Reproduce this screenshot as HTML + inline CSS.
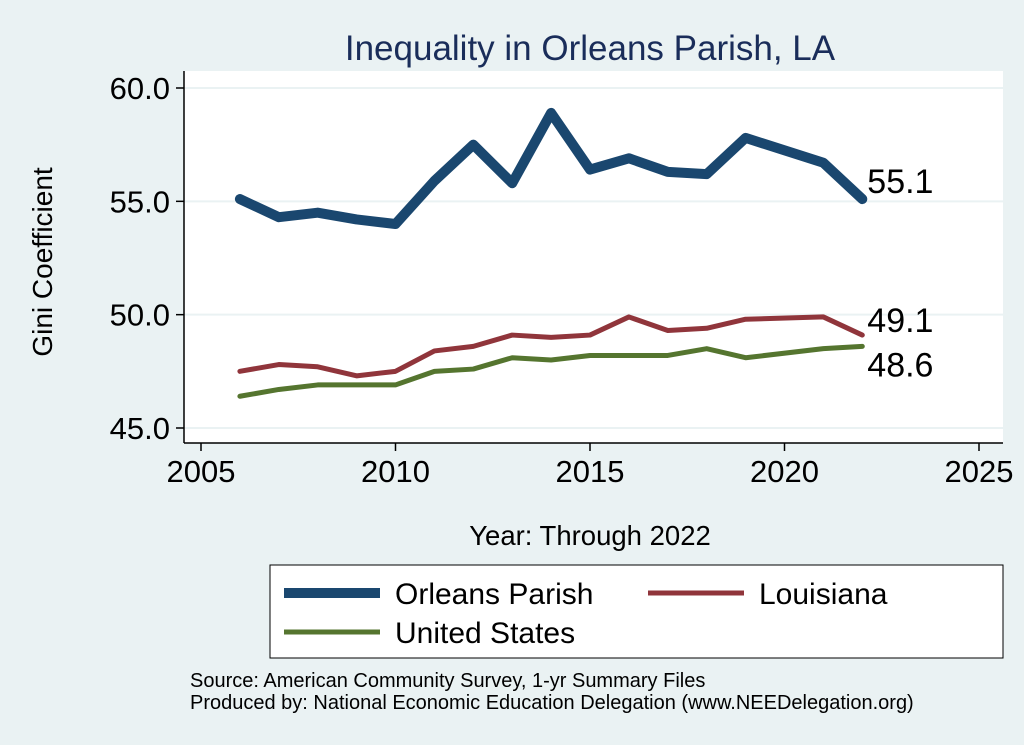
<!DOCTYPE html>
<html><head><meta charset="utf-8"><style>
body{margin:0;background:#eaf2f3;}
svg{display:block;font-family:"Liberation Sans",Arial,sans-serif;}
</style></head><body>
<svg id="chart" width="1024" height="745">
<rect x="0" y="0" width="1024" height="745" fill="#eaf2f3"/>
<text x="590" y="60" text-anchor="middle" font-size="35" fill="#1a2d5a">Inequality in Orleans Parish, LA</text>
<rect x="184" y="71" width="819" height="372" fill="#fff"/>
<g id="grid"></g><g id="axes"></g><g id="series"></g>
<text transform="translate(52,262) rotate(-90)" text-anchor="middle" font-size="28" fill="#000">Gini Coefficient</text>
<text x="590" y="545" text-anchor="middle" font-size="27.5" fill="#000">Year: Through 2022</text>
<g>
<rect x="270" y="565" width="733" height="93" fill="#fff" stroke="#000" stroke-width="1"/>
<line x1="284" y1="593" x2="380" y2="593" stroke="#1a476f" stroke-width="10"/>
<text x="395" y="604" font-size="30">Orleans Parish</text>
<line x1="648" y1="593" x2="744" y2="593" stroke="#90353b" stroke-width="5"/>
<text x="759" y="604" font-size="30">Louisiana</text>
<line x1="284" y1="632" x2="380" y2="632" stroke="#55752f" stroke-width="5"/>
<text x="395" y="643" font-size="30">United States</text>
</g>
<text x="190" y="687" font-size="20">Source: American Community Survey, 1-yr Summary Files</text>
<text x="190" y="709" font-size="20">Produced by: National Economic Education Delegation (www.NEEDelegation.org)</text>
</svg>
<script>
const years=[2006,2007,2008,2009,2010,2011,2012,2013,2014,2015,2016,2017,2018,2019,2021,2022];
const orleans=[55.1,54.3,54.5,54.2,54.0,55.9,57.5,55.8,58.9,56.4,56.9,56.3,56.2,57.8,56.7,55.1];
const louisiana=[47.5,47.8,47.7,47.3,47.5,48.4,48.6,49.1,49.0,49.1,49.9,49.3,49.4,49.8,49.9,49.1];
const unitedStates=[46.4,46.7,46.9,46.9,46.9,47.5,47.6,48.1,48.0,48.2,48.2,48.2,48.5,48.1,48.5,48.6];
const yTicks=[45,50,55,60];
const xTicks=[2005,2010,2015,2020,2025];
const NS="http://www.w3.org/2000/svg";
const xs=v=>201+(v-2005)*(979-201)/20;
const ys=v=>428-(v-45)*(428-88)/15;
function mk(tag,attrs,parent){const e=document.createElementNS(NS,tag);for(const k in attrs)e.setAttribute(k,attrs[k]);parent.appendChild(e);return e;}
const grid=document.getElementById('grid'),axes=document.getElementById('axes'),ser=document.getElementById('series');
yTicks.forEach(t=>{
 const g=mk('line',{x1:184,x2:1003,y1:ys(t),y2:ys(t),stroke:'#eaf2f3','stroke-width':2},grid);
 
 
 const tk=mk('line',{x1:176,x2:184,y1:ys(t),y2:ys(t),stroke:'#000','stroke-width':1.5},axes);
 
 
 const tx=mk('text',{x:170,y:ys(t)+11,'text-anchor':'end','font-size':31},axes);
 tx.textContent=t.toFixed(1);
 
 
});
xTicks.forEach(t=>{
 const tk=mk('line',{x1:xs(t),x2:xs(t),y1:443,y2:451,stroke:'#000','stroke-width':1.5},axes);
 
 
 const tx=mk('text',{x:xs(t),y:482,'text-anchor':'middle','font-size':31},axes);
 tx.textContent=t;
 
 
});
const ya=mk('line',{x1:184,x2:184,y1:71,y2:443,stroke:'#000','stroke-width':1.5},axes);


const xa=mk('line',{x1:184,x2:1003,y1:443,y2:443,stroke:'#000','stroke-width':1.5},axes);


function line(vals,color,w,name,dy){
 const p=mk('polyline',{points:vals.map((v,i)=>xs(years[i])+','+ys(v)).join(' '),fill:'none',stroke:color,'stroke-width':w,'stroke-linejoin':'round','stroke-linecap':'round'},ser);
 
 
 const last=vals[vals.length-1];
 const t=mk('text',{x:xs(years[years.length-1])+5,y:ys(last)+dy,'font-size':34},ser);
 t.textContent=last.toFixed(1);
 
 
}
line(orleans,'#1a476f',10,'orleans',-6);
line(louisiana,'#90353b',5,'louisiana',-3);
line(unitedStates,'#55752f',5,'united-states',30);
</script>
</body></html>
